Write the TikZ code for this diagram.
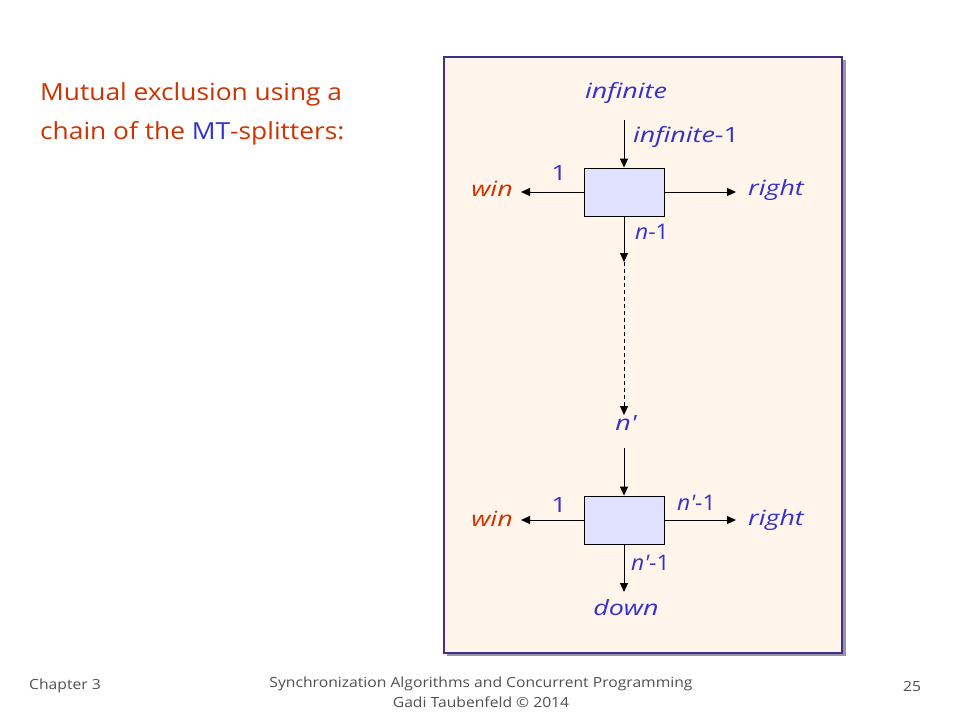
\documentclass[tikz,border=0pt]{standalone}
\usepackage{fontspec}
\setmainfont{Open Sans}
\newfontfamily\lblfont[FakeStretch=1.28]{Open Sans}
\newfontfamily\smfont[FakeStretch=1.06]{Open Sans}
\newfontfamily\titlefont[FakeStretch=1.12]{Open Sans}
\newfontfamily\footfont[FakeStretch=1.12]{Open Sans}
\usetikzlibrary{arrows.meta}
\definecolor{txtblue}{RGB}{51,51,204}
\definecolor{txtred}{RGB}{204,51,0}
\definecolor{panelfill}{RGB}{255,245,234}
\definecolor{panelborder}{RGB}{64,48,140}
\definecolor{shadowgray}{RGB}{150,150,170}
\definecolor{boxfill}{RGB}{224,224,255}
\definecolor{footgray}{RGB}{80,80,80}
\tikzset{
  splitbox/.style={draw=black, fill=boxfill, line width=0.9pt, minimum width=80pt, minimum height=48pt, inner sep=0pt},
  flow/.style={line width=1pt, -{Triangle[length=9pt,width=8pt]}},
  lbl/.style={text=txtblue, font=\lblfont\fontsize{21}{24}\selectfont\itshape, inner sep=0pt},
  lblsm/.style={text=txtblue, font=\smfont\fontsize{21.5}{24}\selectfont\itshape, inner sep=0pt, anchor=west},
  lblup/.style={text=txtblue, font=\lblfont\fontsize{21}{24}\selectfont, inner sep=0pt},
  winlbl/.style={text=txtred, font=\lblfont\fontsize{21}{24}\selectfont\itshape, inner sep=0pt},
  title/.style={text=txtred, font=\titlefont\fontsize{23.5}{26}\selectfont, anchor=west, inner sep=0pt},
  foot/.style={text=footgray, font=\footfont\fontsize{14}{16}\selectfont, inner sep=0pt}
}
\begin{document}
\begin{tikzpicture}[x=1pt,y=-1pt]
\useasboundingbox (0,0) rectangle (960,720);
\fill[white] (0,0) rectangle (960,720);
% panel
\fill[shadowgray] (447,60) rectangle (846,656);
\draw[panelborder, line width=1.5pt, fill=panelfill] (444,57) rectangle (842,653);
% title
\node[title] (t1) at (40,94) {Mutual exclusion using a};
\node[title] (t2) at (40,133) {chain of the \textcolor{txtblue}{MT}-splitters:};
% splitters
\node[splitbox] (b1) at (624,192) {};
\node[splitbox] (b2) at (624,520) {};
% coordinates
\coordinate (in1) at (624,120);
\coordinate (w1) at (521,192);
\coordinate (r1) at (736,192);
\coordinate (d1) at (624,262);
\coordinate (np) at (624,415);
\coordinate (in2) at (624,448);
\coordinate (w2) at (521,520);
\coordinate (r2) at (736,520);
\coordinate (d2) at (624,592);
% arrows
\draw[flow] (in1) -- (b1.north);
\draw[flow] (b1.west) -- (w1);
\draw[flow] (b1.east) -- (r1);
\draw[flow] (b1.south) -- (d1);
\draw[flow, dashed, dash pattern=on 4pt off 3pt] (d1) -- (np);
\draw[flow] (in2) -- (b2.north);
\draw[flow] (b2.west) -- (w2);
\draw[flow] (b2.east) -- (r2);
\draw[flow] (b2.south) -- (d2);
% labels top
\node[lbl] (linf) at (626,93) {infinite};
\node[lbl] (linf1) at (686,137) {infinite{\upshape -1}};
\node[lblup] (lone1) at (559,173) {1};
\node[winlbl] (lwin1) at (492,189) {win};
\node[lbl] (lright1) at (776,190) {right};
\node[lblsm] (ln1) at (635,232) {n{\upshape -1}};
% labels bottom
\node[lbl] (lnp) at (626,423) {n'};
\node[lblup] (lone2) at (559,505) {1};
\node[lblsm] (lnp1a) at (677,503) {n'{\upshape -1}};
\node[winlbl] (lwin2) at (492,519) {win};
\node[lbl] (lright2) at (776,520) {right};
\node[lblsm] (lnp1b) at (631,563) {n'{\upshape -1}};
\node[lbl] (ldown) at (626,608) {down};
% footer
\node[foot] (fch) at (65,686) {Chapter 3};
\node[foot] (fs1) at (481,684) {Synchronization Algorithms and Concurrent Programming};
\node[foot] (fs2) at (481,702) {Gadi Taubenfeld © 2014};
\node[foot] (fpg) at (912,686) {25};
\end{tikzpicture}
\end{document}
